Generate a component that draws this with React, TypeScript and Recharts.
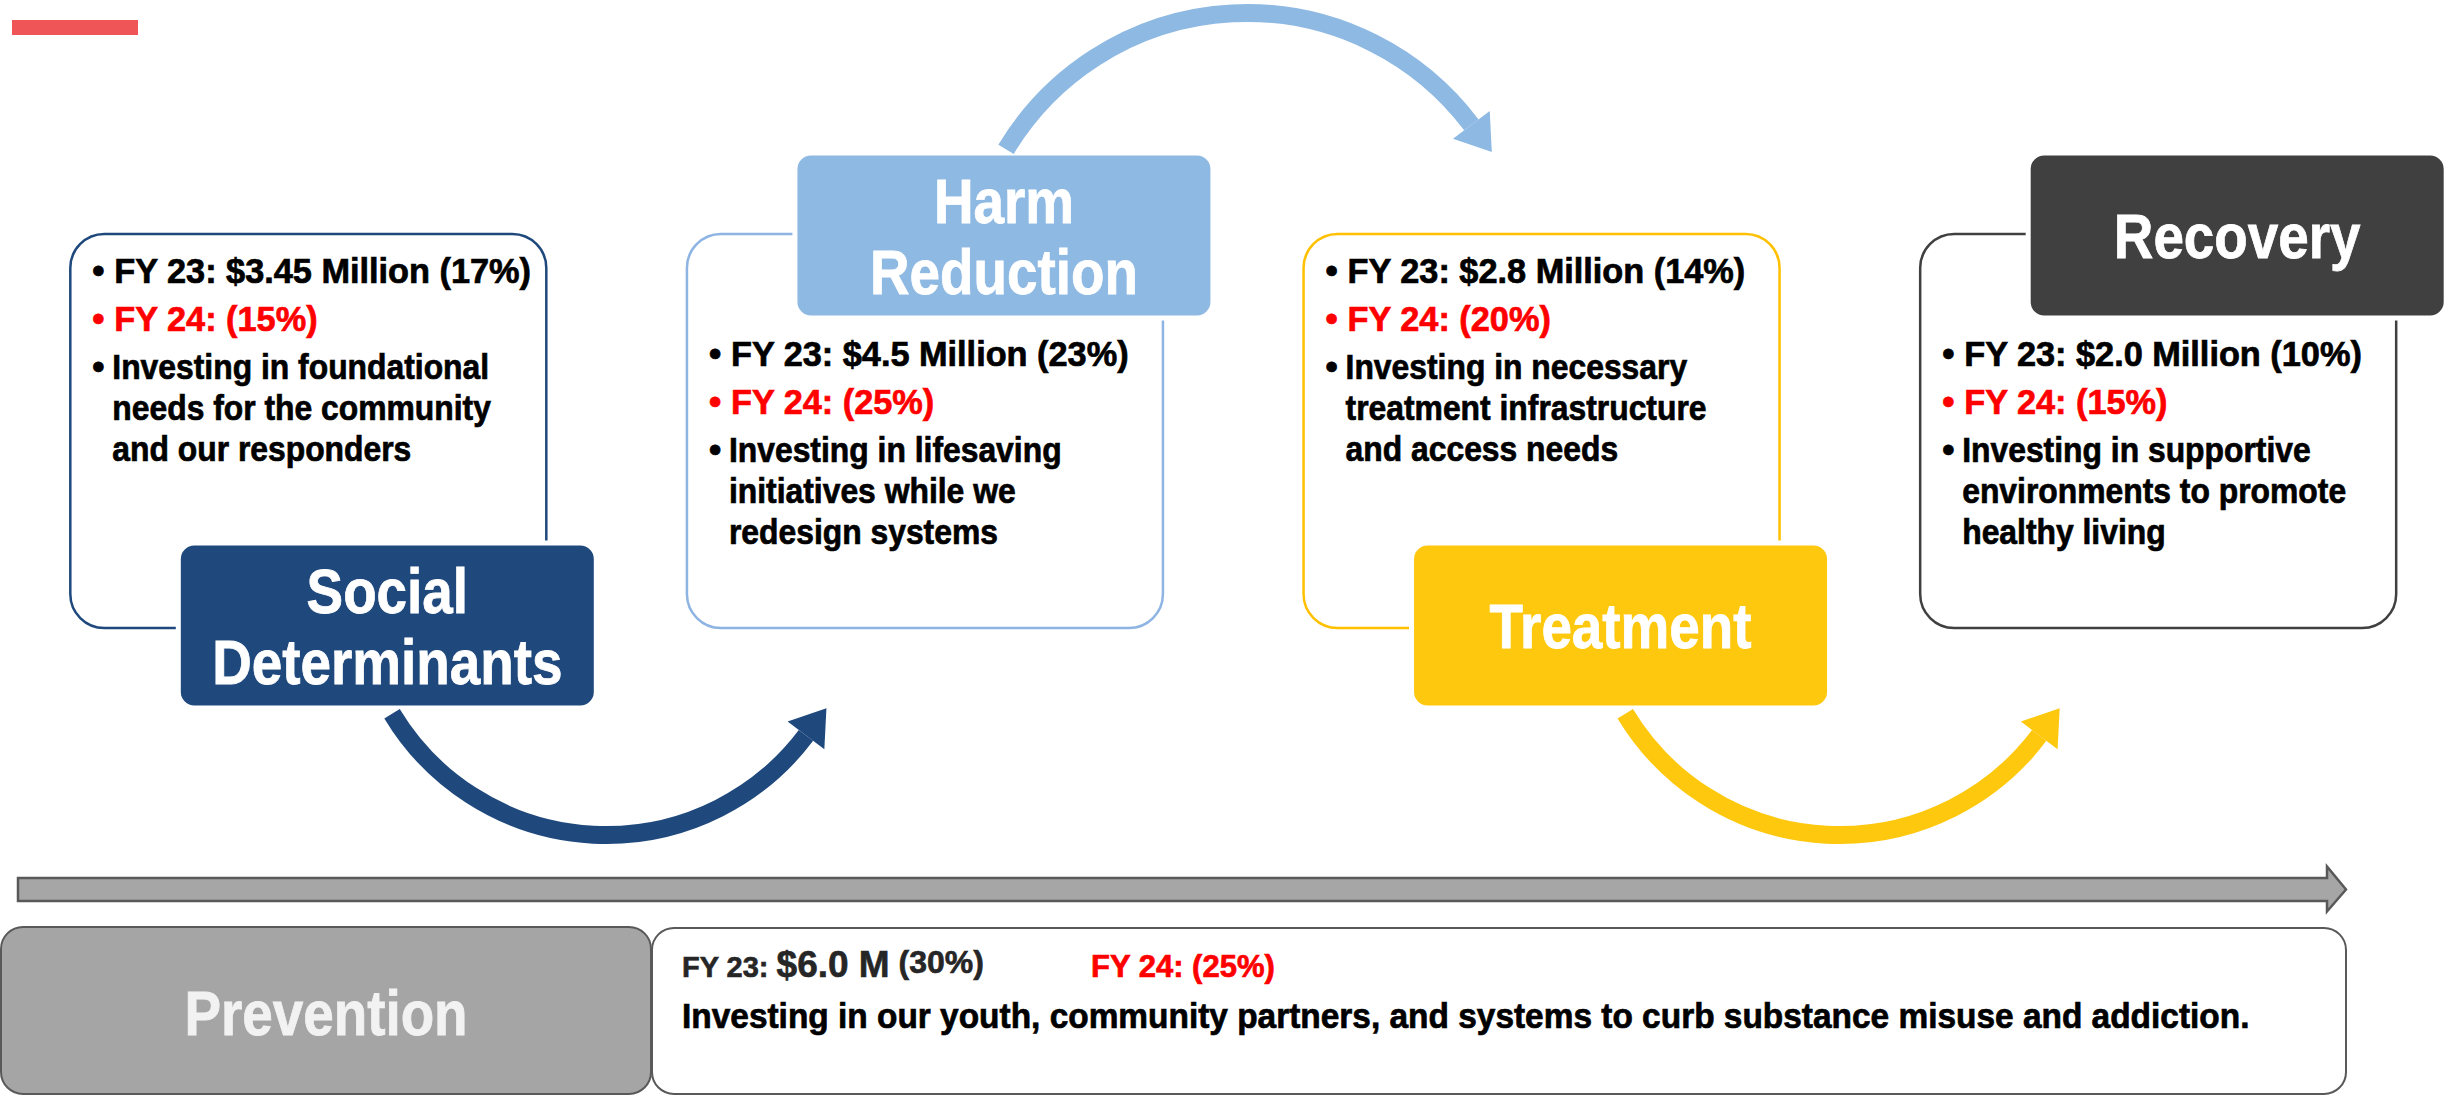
import React from 'react'
import { ComposedChart, Scatter, XAxis, YAxis } from 'recharts'

// stages of the continuum, left to right
const stages = ['Social Determinants', 'Harm Reduction', 'Treatment', 'Recovery']
const titleLines = [['Social', 'Determinants'], ['Harm', 'Reduction'], ['Treatment'], ['Recovery']]
const fy23Amounts = ['$3.45 Million', '$4.5 Million', '$2.8 Million', '$2.0 Million']
const fy23Shares = [17, 23, 14, 10]
const fy24Shares = [15, 25, 20, 15]
const descriptions = [
  ['Investing in foundational', 'needs for the community', 'and our responders'],
  ['Investing in lifesaving', 'initiatives while we', 'redesign systems'],
  ['Investing in necessary', 'treatment infrastructure', 'and access needs'],
  ['Investing in supportive', 'environments to promote', 'healthy living'],
]

// prevention runs underneath everything
const preventionLabel = 'Prevention'
const preventionAmount = '$6.0 M'
const preventionFy23Share = 30
const preventionFy24Share = 25
const preventionText = 'Investing in our youth, community partners, and systems to curb substance misuse and addiction.'

const fills = ['#1F497D', '#8EB9E3', '#FEC80E', '#404040']
const borders = ['#1F497D', '#8DB4E2', '#FFC000', '#404040']
const RED = '#FF0000'
const FONT = "'Liberation Sans', Arial, sans-serif"

const W = 2448
const H = 1096

const stageRows = stages.map((name, i) => ({ x: i, y: 0, index: i, name, titleOnTop: i % 2 === 1 }))
const preventionRows = [{ x: -0.5, y: -1, name: preventionLabel }]

const rad = (d: number) => (d * Math.PI) / 180

function ArcArrow({ ccx, ccy, r, a0, a1, color }: { ccx: number; ccy: number; r: number; a0: number; a1: number; color: string }) {
  const p0 = [ccx + r * Math.cos(rad(a0)), ccy + r * Math.sin(rad(a0))]
  const p1 = [ccx + r * Math.cos(rad(a1)), ccy + r * Math.sin(rad(a1))]
  const sweep = a1 > a0 ? 1 : 0
  const s = sweep ? 1 : -1
  const t = [-Math.sin(rad(a1)) * s, Math.cos(rad(a1)) * s]
  const n = [Math.cos(rad(a1)), Math.sin(rad(a1))]
  const L = 34
  const hw = 23
  const tip = [p1[0] + t[0] * L, p1[1] + t[1] * L]
  const b1 = [p1[0] + n[0] * hw, p1[1] + n[1] * hw]
  const b2 = [p1[0] - n[0] * hw, p1[1] - n[1] * hw]
  return (
    <g>
      <path d={`M${p0[0]},${p0[1]} A${r},${r} 0 0 ${sweep} ${p1[0]},${p1[1]}`} fill="none" stroke={color} strokeWidth={18} />
      <polygon points={`${tip[0]},${tip[1]} ${b1[0]},${b1[1]} ${b2[0]},${b2[1]}`} fill={color} />
    </g>
  )
}

// narrow, tall heading text (the source used a condensed face)
function Heading({ x, y, children, fill = '#fff' }: { x: number; y: number; children: React.ReactNode; fill?: string }) {
  return (
    <text transform={`translate(${x},${y}) scale(0.87,1)`} textAnchor="middle" fontFamily={FONT} fontWeight="bold" fontSize={63} fill={fill} stroke={fill} strokeWidth={0.8}>
      {children}
    </text>
  )
}

// body text, squeezed a little sideways
function Body({ x, y, sx = 1, size = 35, fill = '#000', children }: { x: number; y: number; sx?: number; size?: number; fill?: string; children: React.ReactNode }) {
  return (
    <text transform={`translate(${x},${y}) scale(${sx},1)`} fontFamily={FONT} fontWeight="bold" fontSize={size} fill={fill} stroke={fill} strokeWidth={0.7}>
      {children}
    </text>
  )
}

function StageCard(props: any) {
  const { cx, cy, payload } = props
  const i: number = payload.index
  const high: boolean = payload.titleOnTop
  const left = cx - 238
  const top = cy - 197
  const tLeft = left + 108
  const tTop = high ? top - 81 : top + 309
  const tx = left + 44
  const bx = left + 22
  const y0 = top + (high ? 132 : 49)
  const lines = titleLines[i]
  const titleBase = lines.length === 2 ? [tTop + 70, tTop + 141] : [tTop + 105]
  const next = i < stages.length - 1

  return (
    <g>
      <rect x={left} y={top} width={476} height={394} rx={34} fill="#fff" stroke={borders[i]} strokeWidth={2.5} />
      <Body x={bx} y={y0}>•</Body>
      <Body x={tx} y={y0} sx={0.98}>{`FY 23: ${fy23Amounts[i]} (${fy23Shares[i]}%)`}</Body>
      <Body x={bx} y={y0 + 48} fill={RED}>•</Body>
      <Body x={tx} y={y0 + 48} sx={0.98} fill={RED}>{`FY 24: (${fy24Shares[i]}%)`}</Body>
      <Body x={bx} y={y0 + 96}>•</Body>
      {descriptions[i].map((d, k) => (
        <Body key={k} x={tx - 2} y={y0 + 96 + k * 41} sx={0.91}>{d}</Body>
      ))}
      <rect x={tLeft} y={tTop} width={418} height={165} rx={16} fill={fills[i]} stroke="#fff" strokeWidth={5} />
      {lines.map((l, k) => (
        <Heading key={k} x={tLeft + 209} y={titleBase[k]}>{l}</Heading>
      ))}
      {next && (high
        ? <ArcArrow ccx={tLeft + 452} ccy={tTop + 141} r={281} a0={211} a1={323} color={fills[i]} />
        : <ArcArrow ccx={tLeft + 428} ccy={tTop + 165 - 123} r={250} a0={149} a1={37} color={fills[i]} />)}
    </g>
  )
}

function PreventionRow(props: any) {
  const { cx, cy } = props
  const left = cx
  const shaftTop = cy - 133
  const shaftBot = cy - 110
  const mid = (shaftTop + shaftBot) / 2
  const arrow = `M${left + 18},${shaftTop} L${left + 2327},${shaftTop} L${left + 2327},${mid - 23} L${left + 2346},${mid} L${left + 2327},${mid + 22} L${left + 2327},${shaftBot} L${left + 18},${shaftBot} Z`
  const boxTop = cy - 84
  return (
    <g>
      <path d={arrow} fill="#A6A6A6" stroke="#595959" strokeWidth={2.5} />
      <rect x={left + 1} y={boxTop} width={650} height={167} rx={22} fill="#A5A5A5" stroke="#595959" strokeWidth={2} />
      <rect x={left + 652} y={boxTop + 1} width={1694} height={166} rx={22} fill="#fff" stroke="#595959" strokeWidth={2} />
      <Heading x={left + 326} y={cy + 24} fill="#F2F2F2">{preventionLabel}</Heading>
      <text x={left + 682} y={cy - 34} fontFamily={FONT} fontWeight="bold" fill="#262626" stroke="#262626" strokeWidth={0.6}>
        <tspan fontSize={29}>FY 23: </tspan>
        <tspan fontSize={37}>{preventionAmount}</tspan>
        <tspan fontSize={32} dy={-4}>{` (${preventionFy23Share}%)`}</tspan>
      </text>
      <Body x={left + 1091} y={cy - 34} size={31} fill={RED}>{`FY 24: (${preventionFy24Share}%)`}</Body>
      <Body x={left + 682} y={cy + 17} size={35} sx={0.955}>{preventionText}</Body>
    </g>
  )
}

export default function App() {
  return (
    <div style={{ position: 'absolute', left: 0, top: 0, width: W, height: H, background: '#fff' }}>
      <div style={{ position: 'absolute', left: 12, top: 20, width: 126, height: 15, background: '#EF5457' }} />
      <ComposedChart width={W} height={H} margin={{ top: 0, right: 0, bottom: 0, left: 0 }}>
        <XAxis type="number" dataKey="x" domain={[-0.5, 3.47]} hide />
        <YAxis type="number" dataKey="y" domain={[-1.1466, 0.7431]} hide />
        <Scatter data={preventionRows} dataKey="y" shape={PreventionRow} isAnimationActive={false} />
        <Scatter data={stageRows} dataKey="y" shape={StageCard} isAnimationActive={false} />
      </ComposedChart>
    </div>
  )
}
